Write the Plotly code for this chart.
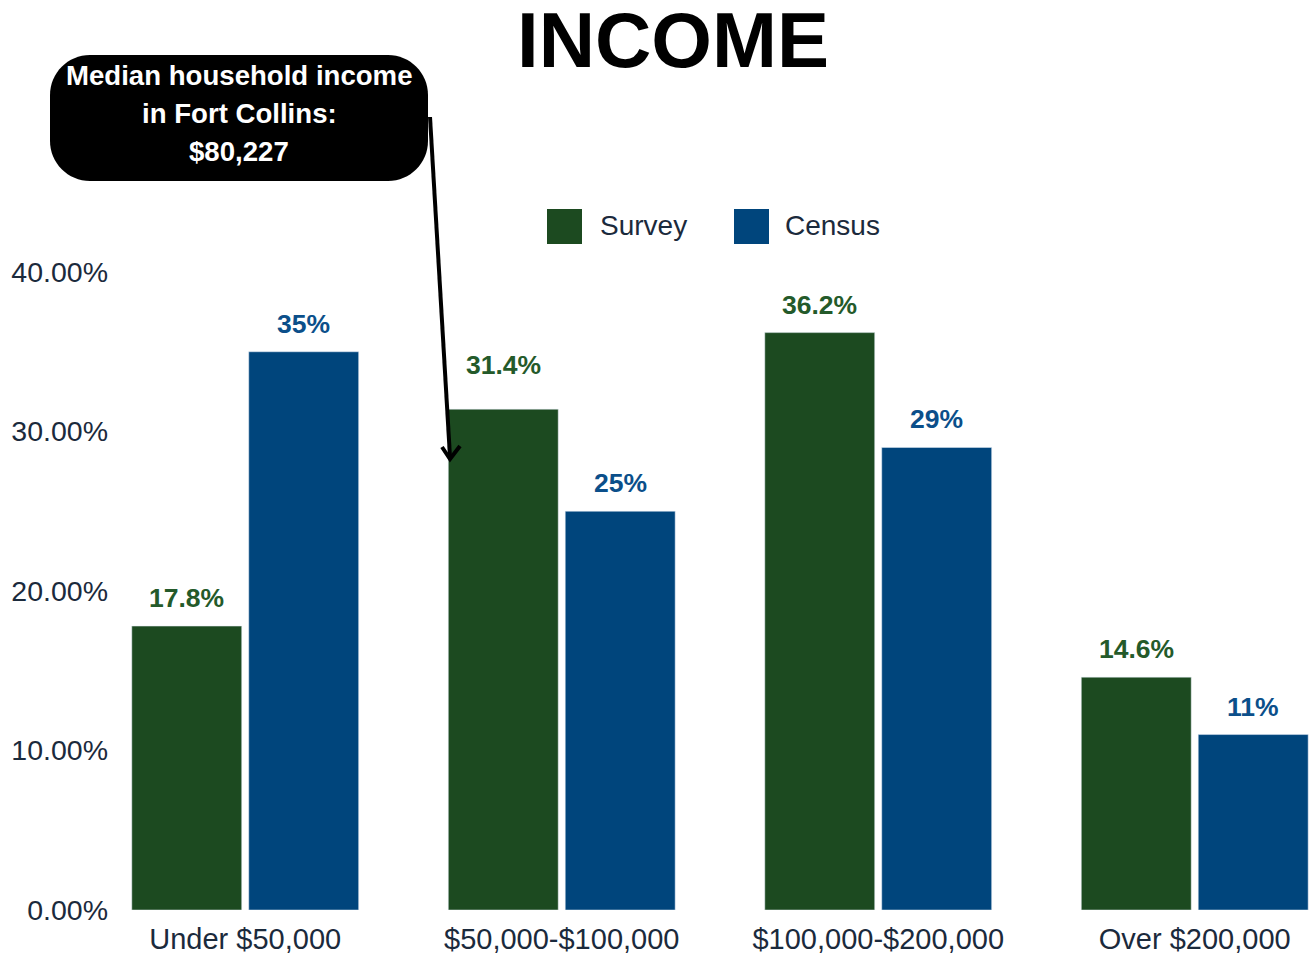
import plotly.graph_objects as go

# Household income distribution: survey respondents vs. census
categories = ["Under $50,000", "$50,000-$100,000", "$100,000-$200,000", "Over $200,000"]
survey = [0.178, 0.314, 0.362, 0.146]
census = [0.35, 0.25, 0.29, 0.11]
y_ticks = [0.0, 0.1, 0.2, 0.3, 0.4]
series_names = ["Survey", "Census"]
callout_lines = ["Median household income", "in Fort Collins:", "$80,227"]
chart_title = "INCOME"

GREEN = "#1c4a20"
GREEN_TEXT = "#245a2a"
BLUE = "#00457c"
BLUE_TEXT = "#0b4f8a"
INK = "#1b2a3c"
FONT = "Liberation Sans, Arial, sans-serif"

W, H = 1315, 956
M_L, M_R, M_T, M_B = 118, 0, 272, 46
PW, PH = W - M_L - M_R, H - M_T - M_B
BARGAP, GROUPGAP = 0.261, 0.06


def px(x):
    """Horizontal pixel -> paper coordinate."""
    return (x - M_L) / PW


def py(y):
    """Vertical pixel -> paper coordinate."""
    return (H - M_B - y) / PH


fig = go.Figure()
fig.add_trace(go.Bar(name=series_names[0], x=categories, y=survey, marker_color=GREEN))
fig.add_trace(go.Bar(name=series_names[1], x=categories, y=census, marker_color=BLUE))

# value labels above each bar
slot = (1 - BARGAP) / 2
offsets = [-slot / 2, slot / 2]
label_style = [
    ("{:.1%}", GREEN_TEXT, survey),
    ("{:.0%}", BLUE_TEXT, census),
]
extra_lift = {(0, 1): 16}  # keep the 31.4% label clear of the callout pointer

annotations = []
for s, (fmt, color, values) in enumerate(label_style):
    for i, v in enumerate(values):
        annotations.append(dict(
            x=i + offsets[s], y=v, xref="x", yref="y", text=fmt.format(v),
            showarrow=False, xanchor="center", yanchor="bottom",
            yshift=11 + extra_lift.get((s, i), 0),
            font=dict(family=FONT, size=26.5, color=color, weight="bold"),
        ))


def rounded_rect(x0, y0, x1, y1, r):
    k = 0.5523 * r
    pts = [
        f"M {px(x0 + r)},{py(y0)}",
        f"L {px(x1 - r)},{py(y0)}",
        f"C {px(x1 - r + k)},{py(y0)} {px(x1)},{py(y0 + r - k)} {px(x1)},{py(y0 + r)}",
        f"L {px(x1)},{py(y1 - r)}",
        f"C {px(x1)},{py(y1 - r + k)} {px(x1 - r + k)},{py(y1)} {px(x1 - r)},{py(y1)}",
        f"L {px(x0 + r)},{py(y1)}",
        f"C {px(x0 + r - k)},{py(y1)} {px(x0)},{py(y1 - r + k)} {px(x0)},{py(y1 - r)}",
        f"L {px(x0)},{py(y0 + r)}",
        f"C {px(x0)},{py(y0 + r - k)} {px(x0 + r - k)},{py(y0)} {px(x0 + r)},{py(y0)}",
        "Z",
    ]
    return " ".join(pts)


shapes = [
    # callout box
    dict(type="path", xref="paper", yref="paper", path=rounded_rect(50, 55, 428, 181, 40),
         fillcolor="black", line=dict(width=0), layer="above"),
    # pointer line
    dict(type="path", xref="paper", yref="paper",
         path=f"M {px(430)},{py(117)} L {px(450)},{py(457)}",
         line=dict(color="black", width=4), layer="above"),
    # open arrowhead
    dict(type="path", xref="paper", yref="paper",
         path=f"M {px(442)},{py(447)} L {px(450)},{py(459)} L {px(460)},{py(446)}",
         line=dict(color="black", width=4), layer="above"),
    # legend swatches
    dict(type="rect", xref="paper", yref="paper", x0=px(547), x1=px(582), y0=py(244), y1=py(209),
         fillcolor=GREEN, line=dict(width=0)),
    dict(type="rect", xref="paper", yref="paper", x0=px(734), x1=px(769), y0=py(244), y1=py(209),
         fillcolor=BLUE, line=dict(width=0)),
]

for i, line in enumerate(callout_lines):
    annotations.append(dict(
        x=px(239), y=py(76 + 38 * i), xref="paper", yref="paper", text=line,
        showarrow=False, xanchor="center", yanchor="middle",
        font=dict(family=FONT, size=27.6, color="white", weight="bold"),
    ))
for name, xl in zip(series_names, [598, 783]):
    annotations.append(dict(
        x=px(xl), y=py(226), xref="paper", yref="paper", text=name,
        showarrow=False, xanchor="left", yanchor="middle",
        font=dict(family=FONT, size=28, color=INK),
    ))

fig.update_layout(
    width=W, height=H,
    margin=dict(l=M_L, r=M_R, t=M_T, b=M_B),
    paper_bgcolor="white", plot_bgcolor="white",
    barmode="group", bargap=BARGAP, bargroupgap=GROUPGAP,
    showlegend=False,
    title=dict(text=f"<b>{chart_title}</b>", x=673 / W, xanchor="center",
               y=1 - 40 / H, yanchor="middle", yref="container",
               font=dict(family=FONT, size=78, color="black")),
    xaxis=dict(range=[-0.402, 3.38], showline=False, showgrid=False, zeroline=False,
               ticks="", ticklabelstandoff=9,
               tickfont=dict(family=FONT, size=29, color=INK)),
    yaxis=dict(range=[0, 0.4], tickvals=y_ticks, tickformat=".2%", showgrid=False,
               zeroline=False, showline=False, ticks="", ticklabelstandoff=9,
               tickfont=dict(family=FONT, size=28.5, color=INK)),
    shapes=shapes,
    annotations=annotations,
)

fig.write_html("out.html")
